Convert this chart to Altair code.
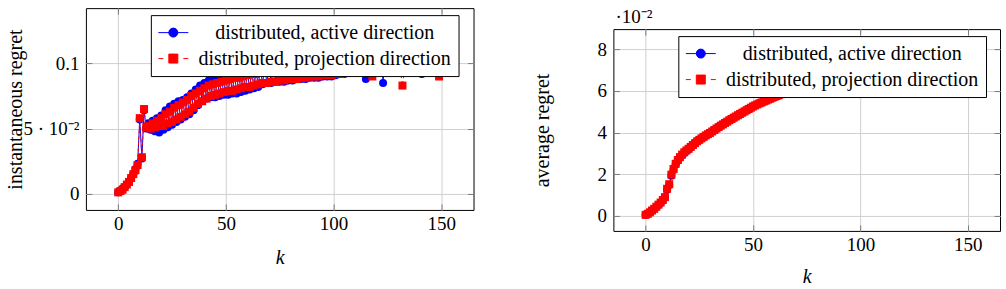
import altair as alt
import pandas as pd

# iteration index
k = list(range(151))

series_names = ["distributed, active direction", "distributed, projection direction"]

# instantaneous regret per iteration
inst_active = [
    0.001, 0.002, 0.004, 0.005, 0.007, 0.009, 0.012, 0.015, 0.019, 0.023,
    0.057, 0.027, 0.064, 0.050, 0.054, 0.049, 0.056, 0.048, 0.058, 0.047,
    0.060, 0.049, 0.064, 0.051, 0.067, 0.053, 0.069, 0.055, 0.071, 0.057,
    0.072, 0.059, 0.074, 0.061, 0.077, 0.064, 0.080, 0.068, 0.083, 0.071,
    0.085, 0.073, 0.087, 0.074, 0.088, 0.074, 0.089, 0.075, 0.090, 0.076,
    0.091, 0.076, 0.092, 0.077, 0.093, 0.077, 0.093, 0.078, 0.094, 0.079,
    0.095, 0.080, 0.096, 0.081, 0.097, 0.082, 0.097, 0.084, 0.098, 0.085,
    0.099, 0.085, 0.099, 0.086, 0.100, 0.086, 0.101, 0.086, 0.101, 0.087,
    0.102, 0.087, 0.102, 0.088, 0.103, 0.088, 0.103, 0.088, 0.104, 0.089,
    0.104, 0.089, 0.105, 0.089, 0.105, 0.090, 0.106, 0.090, 0.106, 0.090,
    0.107, 0.091, 0.107, 0.092, 0.108, 0.092, 0.108, 0.093, 0.109, 0.093,
    0.109, 0.094, 0.110, 0.094, 0.110, 0.088, 0.110, 0.094, 0.111, 0.094,
    0.111, 0.094, 0.112, 0.085, 0.112, 0.094, 0.112, 0.094, 0.113, 0.094,
    0.113, 0.095, 0.113, 0.095, 0.114, 0.095, 0.114, 0.095, 0.114, 0.095,
    0.115, 0.092, 0.115, 0.095, 0.115, 0.095, 0.115, 0.096, 0.116, 0.096,
    0.116,
]
inst_projection = [
    0.001, 0.002, 0.003, 0.005, 0.007, 0.009, 0.012, 0.015, 0.018, 0.022,
    0.058, 0.028, 0.065, 0.051, 0.052, 0.050, 0.054, 0.051, 0.056, 0.052,
    0.058, 0.052, 0.061, 0.054, 0.063, 0.055, 0.066, 0.057, 0.068, 0.059,
    0.070, 0.061, 0.072, 0.063, 0.075, 0.066, 0.077, 0.069, 0.079, 0.071,
    0.081, 0.073, 0.083, 0.075, 0.084, 0.076, 0.085, 0.077, 0.086, 0.078,
    0.087, 0.079, 0.088, 0.079, 0.089, 0.080, 0.089, 0.081, 0.090, 0.082,
    0.091, 0.082, 0.092, 0.083, 0.092, 0.084, 0.093, 0.085, 0.094, 0.085,
    0.094, 0.086, 0.095, 0.086, 0.096, 0.087, 0.096, 0.087, 0.097, 0.088,
    0.097, 0.088, 0.098, 0.088, 0.099, 0.089, 0.099, 0.089, 0.100, 0.090,
    0.100, 0.090, 0.101, 0.090, 0.101, 0.091, 0.102, 0.091, 0.102, 0.091,
    0.103, 0.092, 0.103, 0.092, 0.104, 0.093, 0.104, 0.093, 0.105, 0.093,
    0.105, 0.094, 0.106, 0.094, 0.106, 0.094, 0.107, 0.094, 0.090, 0.095,
    0.107, 0.095, 0.108, 0.095, 0.108, 0.095, 0.109, 0.095, 0.109, 0.095,
    0.110, 0.095, 0.083, 0.096, 0.110, 0.096, 0.111, 0.096, 0.111, 0.096,
    0.112, 0.096, 0.112, 0.096, 0.112, 0.096, 0.113, 0.096, 0.113, 0.090,
    0.113,
]

# average regret per iteration, in units of 1e-2
avg_active = [
    0.05, 0.10, 0.17, 0.25, 0.34, 0.43, 0.53, 0.63, 0.75, 0.88,
    1.25, 1.48, 1.93, 2.20, 2.46, 2.64, 2.79, 2.91, 3.02, 3.11,
    3.19, 3.28, 3.38, 3.47, 3.56, 3.64, 3.71, 3.78, 3.85, 3.91,
    3.98, 4.05, 4.12, 4.19, 4.26, 4.33, 4.40, 4.46, 4.53, 4.59,
    4.65, 4.71, 4.77, 4.83, 4.89, 4.95, 5.01, 5.07, 5.13, 5.19,
    5.25, 5.30, 5.35, 5.40, 5.44, 5.49, 5.53, 5.58, 5.62, 5.67,
    5.71, 5.75, 5.79, 5.84, 5.88, 5.92, 5.96, 6.00, 6.04, 6.08,
    6.12, 6.16, 6.19, 6.23, 6.26, 6.30, 6.33, 6.36, 6.40, 6.43,
    6.46, 6.49, 6.52, 6.55, 6.58, 6.61, 6.64, 6.67, 6.69, 6.72,
    6.75, 6.77, 6.80, 6.82, 6.85, 6.87, 6.90, 6.92, 6.94, 6.97,
    6.99, 7.01, 7.03, 7.06, 7.08, 7.10, 7.12, 7.14, 7.16, 7.18,
    7.20, 7.22, 7.24, 7.26, 7.28, 7.29, 7.31, 7.33, 7.35, 7.37,
    7.38, 7.40, 7.42, 7.43, 7.45, 7.47, 7.48, 7.50, 7.52, 7.53,
    7.55, 7.56, 7.58, 7.59, 7.61, 7.62, 7.63, 7.65, 7.66, 7.68,
    7.69, 7.70, 7.72, 7.73, 7.74, 7.76, 7.77, 7.78, 7.79, 7.81,
    7.82,
]
avg_projection = [
    0.05, 0.10, 0.17, 0.26, 0.34, 0.44, 0.54, 0.64, 0.76, 0.90,
    1.30, 1.52, 1.98, 2.25, 2.50, 2.68, 2.82, 2.94, 3.05, 3.14,
    3.22, 3.31, 3.40, 3.49, 3.58, 3.65, 3.72, 3.79, 3.86, 3.92,
    3.98, 4.05, 4.12, 4.19, 4.26, 4.33, 4.39, 4.46, 4.52, 4.59,
    4.65, 4.71, 4.77, 4.83, 4.89, 4.95, 5.01, 5.07, 5.13, 5.19,
    5.25, 5.30, 5.35, 5.40, 5.44, 5.49, 5.53, 5.58, 5.62, 5.67,
    5.71, 5.75, 5.79, 5.84, 5.88, 5.92, 5.96, 6.00, 6.04, 6.08,
    6.11, 6.15, 6.18, 6.22, 6.25, 6.29, 6.32, 6.35, 6.39, 6.42,
    6.45, 6.48, 6.51, 6.54, 6.57, 6.60, 6.63, 6.66, 6.68, 6.71,
    6.74, 6.76, 6.79, 6.81, 6.84, 6.86, 6.89, 6.91, 6.93, 6.96,
    6.98, 7.00, 7.02, 7.05, 7.07, 7.09, 7.11, 7.13, 7.15, 7.17,
    7.19, 7.21, 7.23, 7.25, 7.27, 7.29, 7.31, 7.32, 7.34, 7.36,
    7.38, 7.39, 7.41, 7.43, 7.44, 7.46, 7.48, 7.49, 7.51, 7.52,
    7.54, 7.55, 7.57, 7.58, 7.60, 7.61, 7.63, 7.64, 7.65, 7.67,
    7.68, 7.69, 7.71, 7.72, 7.73, 7.75, 7.76, 7.77, 7.78, 7.80,
    7.81,
]

x_ticks = [0, 50, 100, 150]
inst_ticks = [0, 0.05, 0.1]
avg_ticks = [0, 2, 4, 6, 8]
avg_scale_label = ["·10⁻²"]

BLUE = "#0000ff"
RED = "#ff0000"
FONT = "Liberation Serif"
GRID = "#d0d0d0"
TICK = "#7a7a7a"

# legend glyphs: line with a filled circle / dashed line with a filled square
GLYPH_ACTIVE = "M-1,0L2,0M0.95,0A0.45,0.45,0,1,1,0.05,0A0.45,0.45,0,1,1,0.95,0Z"
GLYPH_PROJECTION = ("M-1,0L-0.5,0M1.5,0L2,0"
                    "M0.05,-0.45L0.95,-0.45L0.95,0.45L0.05,0.45Z")

INDEPENDENT = dict(fill="independent", stroke="independent", shape="independent")


def panel(active, projection, y_domain, y_ticks, y_label_expr, y_title,
          width, height, title_x, title_k_y):
    df_a = pd.DataFrame({"k": k, "v": active, "series": series_names[0]})
    df_p = pd.DataFrame({"k": k, "v": projection, "series": series_names[1]})
    df_all = pd.concat([df_a, df_p], ignore_index=True)

    xs = alt.Scale(domain=[-15, 165], nice=False, zero=False)
    ys = alt.Scale(domain=y_domain, nice=False, zero=False)

    x_main = alt.Axis(orient="bottom", values=x_ticks, grid=True, gridColor=GRID,
                      ticks=False, tickSize=0, domain=False, labelPadding=5,
                      labelFont=FONT, labelFontSize=19, labelColor="black",
                      title="k", titleFont=FONT, titleFontSize=20,
                      titleFontStyle="italic", titleFontWeight="normal",
                      titleColor="black", titleY=title_k_y, titleBaseline="middle")
    y_main = alt.Axis(orient="left", values=y_ticks, labelExpr=y_label_expr,
                      grid=True, gridColor=GRID, ticks=False, tickSize=0,
                      domain=False, labelPadding=7, labelFont=FONT,
                      labelFontSize=19, labelColor="black", title=y_title,
                      titleFont=FONT, titleFontSize=20, titleFontWeight="normal",
                      titleColor="black", titleX=title_x, titleY=height / 2,
                      titleBaseline="middle", titleAlign="center")

    def tick_axis(orient, values):
        # short ticks pointing into the plot from the frame
        return alt.Axis(orient=orient, values=values, labels=False, grid=False,
                        domain=False, ticks=True, tickSize=6, tickColor=TICK,
                        tickWidth=1, offset=-6, title=None)

    line_a = alt.Chart(df_a).mark_line(color=BLUE, strokeWidth=1).encode(
        x=alt.X("k:Q", scale=xs, axis=x_main),
        y=alt.Y("v:Q", scale=ys, axis=y_main),
    )
    pts_a = alt.Chart(df_a).mark_point(shape="circle", filled=True, color=BLUE,
                                       size=64, opacity=1).encode(
        x=alt.X("k:Q", scale=xs, axis=tick_axis("bottom", x_ticks)),
        y=alt.Y("v:Q", scale=ys, axis=tick_axis("left", y_ticks)),
    )
    line_p = alt.Chart(df_p).mark_line(color=RED, strokeWidth=1,
                                       strokeDash=[3, 3]).encode(
        x=alt.X("k:Q", scale=xs, axis=tick_axis("top", x_ticks)),
        y=alt.Y("v:Q", scale=ys, axis=tick_axis("right", y_ticks)),
    )
    pts_p = alt.Chart(df_p).mark_point(shape="square", filled=True, color=RED,
                                       size=64, opacity=1).encode(
        x=alt.X("k:Q", scale=xs, axis=None),
        y=alt.Y("v:Q", scale=ys, axis=None),
    )

    leg = alt.Legend(title=None, orient="none", legendX=65, legendY=7,
                     direction="vertical", fillColor="white", strokeColor="black",
                     padding=7, symbolSize=400, symbolStrokeWidth=1,
                     symbolOpacity=1, labelFont=FONT, labelFontSize=20,
                     labelColor="black", labelAlign="center", labelOffset=146,
                     labelLimit=0, rowPadding=5, cornerRadius=0)
    legend_layer = alt.Chart(df_all).mark_point(filled=True, opacity=0).encode(
        x=alt.X("k:Q", scale=xs, axis=None),
        y=alt.Y("v:Q", scale=ys, axis=None),
        fill=alt.Fill("series:N", legend=leg,
                      scale=alt.Scale(domain=series_names, range=[BLUE, RED])),
        stroke=alt.Stroke("series:N", legend=leg,
                          scale=alt.Scale(domain=series_names, range=[BLUE, RED])),
        shape=alt.Shape("series:N", legend=leg,
                        scale=alt.Scale(domain=series_names,
                                        range=[GLYPH_ACTIVE, GLYPH_PROJECTION])),
    )

    return alt.layer(line_a, pts_a, line_p, pts_p, legend_layer).resolve_axis(
        x="independent", y="independent"
    ).properties(width=width, height=height)


left = panel(
    inst_active, inst_projection,
    y_domain=[-0.0125, 0.1425], y_ticks=inst_ticks,
    y_label_expr="datum.value < 0.01 ? '0' : (datum.value < 0.07 ? '5 · 10⁻²' : '0.1')",
    y_title="instantaneous regret", width=388, height=202,
    title_x=-70, title_k_y=48,
)
right = panel(
    avg_active, avg_projection,
    y_domain=[-0.72, 8.96], y_ticks=avg_ticks,
    y_label_expr="format(datum.value, 'd')",
    y_title="average regret", width=387, height=202,
    title_x=-71, title_k_y=46,
)

# exponent note above the average-regret axis
exponent = alt.Chart(pd.DataFrame({"t": avg_scale_label})).mark_text(
    align="left", baseline="alphabetic", font=FONT, fontSize=19, color="black"
).encode(
    text="t:N", x=alt.value(2), y=alt.value(15)
).properties(width=387, height=15, view=alt.ViewBackground(stroke="transparent"))

right_column = alt.vconcat(exponent, right, spacing=0).resolve_scale(
    **INDEPENDENT
).resolve_legend(**INDEPENDENT)

chart = alt.hconcat(left, right_column, spacing=57).resolve_scale(
    **INDEPENDENT
).resolve_legend(
    **INDEPENDENT
).properties(
    padding={"left": 5, "top": 7, "right": 5, "bottom": 0}
).configure_view(stroke="black", strokeWidth=1)

chart.save("out.html", embed_options={"renderer": "svg", "actions": False})
